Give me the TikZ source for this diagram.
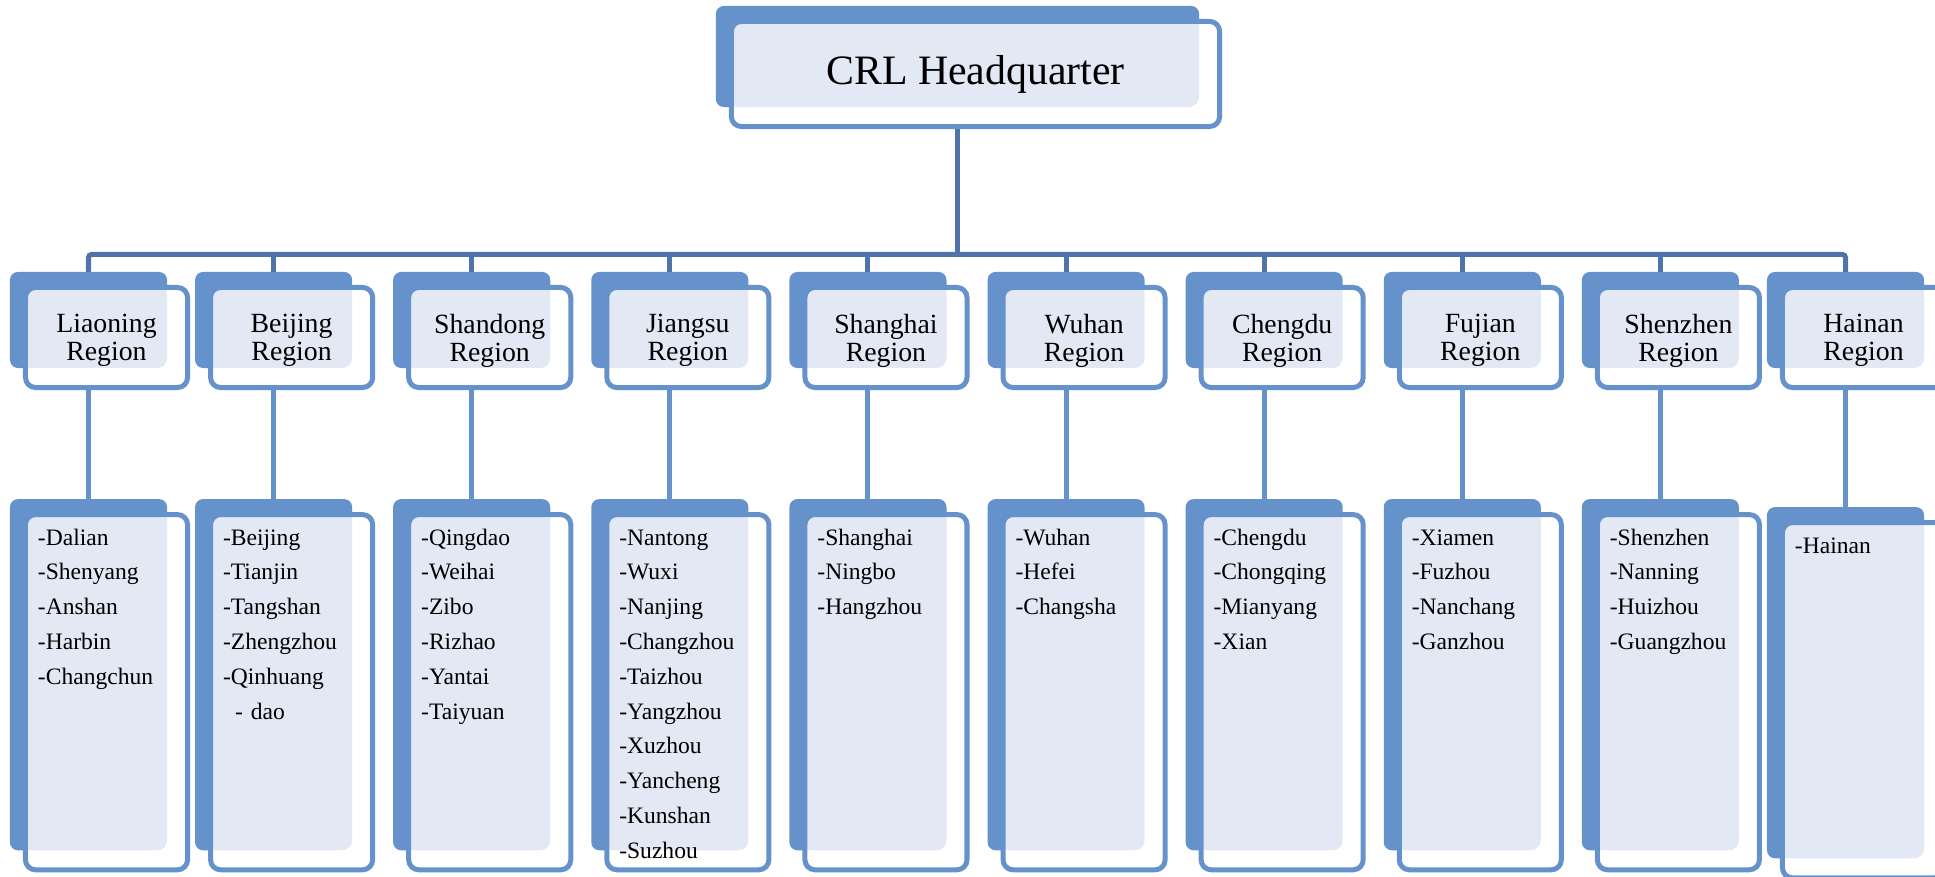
\documentclass[tikz,border=0pt]{standalone}
\usepackage{fontspec}
\setmainfont{Liberation Serif}
\usetikzlibrary{positioning, backgrounds, fit}
\definecolor{CrlBlue}{RGB}{102, 146, 204}
\definecolor{CrlDark}{RGB}{80, 116, 168}
\definecolor{CrlDots}{RGB}{226, 233, 245}

\begin{document}
\begin{tikzpicture}[
        x=0.01cm, y=-0.01cm,
        card/.style={rectangle, draw=CrlBlue, fill=white, line width=0.05cm, rounded corners=0.1cm, outer sep=0pt, inner sep=0pt,
            path picture={\fill[CrlDots] ([shift={(-5,-5)}]path picture bounding box.north west) rectangle ([shift={(-20.5,-19.5)}]path picture bounding box.south east);}},
        hqbox/.style={card, minimum width=4.88cm, minimum height=1.05cm, font=\fontsize{11.9}{14}\selectfont},
        regionbox/.style={card, minimum width=1.62cm, minimum height=1cm, text depth=0pt, align=center, font=\fontsize{7.9}{8}\selectfont},
        citybox/.style={card, text width=1.37cm, inner xsep=0.125cm, text height=0.305cm, text depth=3.245cm, align=left, font=\fontsize{6.7}{9.9}\selectfont},
        shade/.style={rectangle, fill=CrlBlue, rounded corners=0.08cm, inner sep=0pt, outer sep=0pt},
        bus/.style={CrlDark, line width=0.05cm},
        link/.style={CrlBlue, line width=0.05cm}
    ]
        \useasboundingbox (0,0) rectangle (1935,877);

        % Nodes
        \node[hqbox] (hq) at (975.5,74) {CRL Headquarter};
        \node[regionbox] (liaoning) at (106.5,337.5) {Liaoning\\Region};
        \node[regionbox, right=0.23cm of liaoning] (beijing) {Beijing\\Region};
        \node[regionbox, right=0.36cm of beijing] (shandong) {Shandong\\Region};
        \node[regionbox, right=0.36cm of shandong] (jiangsu) {Jiangsu\\Region};
        \node[regionbox, right=0.36cm of jiangsu] (shanghai) {Shanghai\\Region};
        \node[regionbox, right=0.36cm of shanghai] (wuhan) {Wuhan\\Region};
        \node[regionbox, right=0.36cm of wuhan] (chengdu) {Chengdu\\Region};
        \node[regionbox, right=0.36cm of chengdu] (fujian) {Fujian\\Region};
        \node[regionbox, right=0.36cm of fujian] (shenzhen) {Shenzhen\\Region};
        \node[regionbox, right=0.23cm of shenzhen] (hainan) {Hainan\\Region};

        \node[citybox, below=1.27cm of liaoning] (liaoning-list) {-Dalian\\-Shenyang\\-Anshan\\-Harbin\\-Changchun};
        \node[citybox, below=1.27cm of beijing] (beijing-list) {-Beijing\\-Tianjin\\-Tangshan\\-Zhengzhou\\-Qinhuang\\\hspace*{0.12cm}- dao};
        \node[citybox, below=1.27cm of shandong] (shandong-list) {-Qingdao\\-Weihai\\-Zibo\\-Rizhao\\-Yantai\\-Taiyuan};
        \node[citybox, below=1.27cm of jiangsu] (jiangsu-list) {-Nantong\\-Wuxi\\-Nanjing\\-Changzhou\\-Taizhou\\-Yangzhou\\-Xuzhou\\-Yancheng\\-Kunshan\\-Suzhou};
        \node[citybox, below=1.27cm of shanghai] (shanghai-list) {-Shanghai\\-Ningbo\\-Hangzhou};
        \node[citybox, below=1.27cm of wuhan] (wuhan-list) {-Wuhan\\-Hefei\\-Changsha};
        \node[citybox, below=1.27cm of chengdu] (chengdu-list) {-Chengdu\\-Chongqing\\-Mianyang\\-Xian};
        \node[citybox, below=1.27cm of fujian] (fujian-list) {-Xiamen\\-Fuzhou\\-Nanchang\\-Ganzhou};
        \node[citybox, below=1.27cm of shenzhen] (shenzhen-list) {-Shenzhen\\-Nanning\\-Huizhou\\-Guangzhou};
        \node[citybox, below=1.35cm of hainan] (hainan-list) {-Hainan};

        \begin{scope}[on background layer]
            % Back cards
            \foreach \n in {hq, liaoning, beijing, shandong, jiangsu, shanghai, wuhan, chengdu, fujian, shenzhen, hainan,
                    liaoning-list, beijing-list, shandong-list, jiangsu-list, shanghai-list, wuhan-list, chengdu-list, fujian-list, shenzhen-list, hainan-list}
                \node[shade, fit={([shift={(-15.5,-15.5)}]\n.north west) ([shift={(-20.5,-19.5)}]\n.south east)}] (\n-back) {};

            % Connections
            \coordinate (busline) at (0,254.5);
            \draw[bus] (hq-back.south) -- (hq-back.south |- busline);
            \draw[bus, rounded corners=0.03cm] (liaoning-back.north) |- (busline -| hainan-back.north) -- (hainan-back.north);
            \foreach \n in {beijing, shandong, jiangsu, shanghai, wuhan, chengdu, fujian, shenzhen}
                \draw[bus] (\n-back.north) -- (\n-back.north |- busline);
            \foreach \n in {liaoning, beijing, shandong, jiangsu, shanghai, wuhan, chengdu, fujian, shenzhen, hainan}
                \draw[link] (\n-back.south) -- (\n-list-back.north);
        \end{scope}

    \end{tikzpicture}
\end{document}
